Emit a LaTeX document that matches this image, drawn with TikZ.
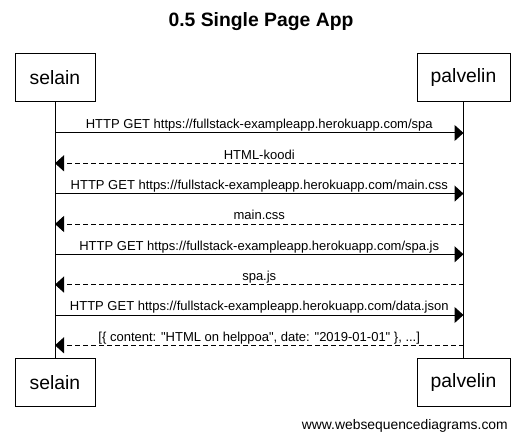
\documentclass[tikz,border=0pt]{standalone}
\usepackage{fontspec}
\setmainfont{Liberation Sans}[Ligatures=TeXOff]
\usepackage{tikz}
\usetikzlibrary{arrows.meta, positioning, calc}
\tikzstyle{TITLE}  = [font=\bfseries\fontsize{14.5}{17}\selectfont]
\tikzstyle{ACTOR}  = [draw=black,       % color for LINES
                      line width=0.75pt, % control line width.
                      rectangle,        % Box shape
                      text centered,
                      minimum height=36pt,
                      font=\fontsize{14.5}{17}\selectfont]
\tikzstyle{LIFE}   = [line width=0.75pt]
\tikzstyle{MSG}    = [font=\fontsize{9.75}{12}\selectfont, anchor=base, inner sep=0pt, yshift=3.2pt]
\tikzstyle{ARROW}  = [line width=0.75pt, -{Triangle[length=6.75pt, width=12pt]}]
\tikzstyle{REPLY}  = [ARROW, dash pattern=on 3.75pt off 2.25pt]
\tikzstyle{MARK}   = [font=\fontsize{10.4}{12}\selectfont, anchor=east, inner sep=0pt]

\begin{document}
\begin{tikzpicture}[x=0.75pt, y=-0.75pt]
		
		% Page size (pixels)
		\useasboundingbox (0,0) rectangle (528,442);
		
		% Title
		\node(title)[TITLE] at (261,22) {0.5 Single Page App};
		
		
		
		% Participants, top
		\node(seltop)[ACTOR, minimum width=60pt] at (55,77.5) {selain};
		\node(paltop)[ACTOR, minimum width=69.75pt] at (463.5,77.5) {palvelin};
		
		% Participants, bottom
		\node(selbot)[ACTOR, minimum width=60pt] at (55,382.5) {selain};
		\node(palbot)[ACTOR, minimum width=69.75pt] at (463.5,382.5) {palvelin};
		
		
		
		% Lifelines
		\draw[LIFE] (seltop.south) -- (selbot.north);
		\draw[LIFE] (paltop.south) -- (palbot.north);
		
		
		
		% Message rows on the lifelines
		\coordinate (s1) at (seltop.south |- 0,133);
		\coordinate (p1) at (paltop.south |- 0,133);
		\coordinate (s2) at (seltop.south |- 0,163.3);
		\coordinate (p2) at (paltop.south |- 0,163.3);
		\coordinate (s3) at (seltop.south |- 0,193.6);
		\coordinate (p3) at (paltop.south |- 0,193.6);
		\coordinate (s4) at (seltop.south |- 0,224);
		\coordinate (p4) at (paltop.south |- 0,224);
		\coordinate (s5) at (seltop.south |- 0,254.3);
		\coordinate (p5) at (paltop.south |- 0,254.3);
		\coordinate (s6) at (seltop.south |- 0,284.6);
		\coordinate (p6) at (paltop.south |- 0,284.6);
		\coordinate (s7) at (seltop.south |- 0,315);
		\coordinate (p7) at (paltop.south |- 0,315);
		\coordinate (s8) at (seltop.south |- 0,345.3);
		\coordinate (p8) at (paltop.south |- 0,345.3);
		
		
		
		% Page
		\draw[ARROW] (s1) -- (p1) node[MSG, midway]{HTTP GET https://fullstack-exampleapp.herokuapp.com/spa};
		\draw[REPLY] (p2) -- (s2) node[MSG, midway]{HTML-koodi};
		% Style sheet
		\draw[ARROW] (s3) -- (p3) node[MSG, midway]{HTTP GET https://fullstack-exampleapp.herokuapp.com/main.css};
		\draw[REPLY] (p4) -- (s4) node[MSG, midway]{main.css};
		% Script
		\draw[ARROW] (s5) -- (p5) node[MSG, midway]{HTTP GET https://fullstack-exampleapp.herokuapp.com/spa.js};
		\draw[REPLY] (p6) -- (s6) node[MSG, midway]{spa.js};
		% Data
		\draw[ARROW] (s7) -- (p7) node[MSG, midway]{HTTP GET https://fullstack-exampleapp.herokuapp.com/data.json};
		\draw[REPLY] (p8) -- (s8) node[MSG, midway]{[\{ content: "HTML on helppoa", date: "2019-01-01" \}, ...]};
		
		
		
		% Watermark
		\node(mark)[MARK] at (508,426) {www.websequencediagrams.com};
		
\end{tikzpicture}
\end{document}
